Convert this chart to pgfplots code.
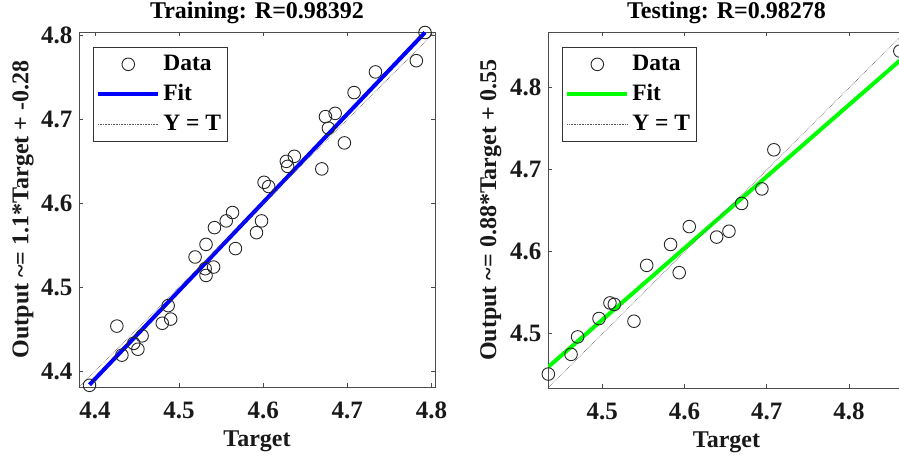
\documentclass[border=0pt]{standalone}
\usepackage{pgfplots}
\pgfplotsset{compat=1.18}
\usepackage{fontspec}
\setmainfont{Liberation Serif}
\definecolor{axgray}{gray}{0.3}
\definecolor{txt}{gray}{0.1}
\newcommand{\lblf}{\bfseries\fontsize{24}{26}\selectfont}
\newcommand{\tickf}{\bfseries\fontsize{25}{27}\selectfont}
\newcommand{\legf}{\bfseries\fontsize{23.5}{25}\selectfont}
\pgfplotsset{
  reg/.style={
    scale only axis,
    clip=true,
    axis line style={axgray, line width=0.9pt},
    tick style={axgray, line width=0.9pt},
    tick align=inside,
    major tick length=4pt,
    tick pos=both,
    xticklabel pos=bottom, yticklabel pos=left,
    /pgf/number format/.cd, assume math mode=true, fixed, fixed zerofill, precision=1,
    /pgfplots/.cd,
    every tick label/.append style={font=\tickf, text=txt},
    xticklabel style={anchor=base, yshift=-31pt},
    yticklabel style={anchor=east, xshift=-3pt},
    label style={font=\lblf, text=txt},
    title style={font=\lblf, at={(axis description cs:0.5,1)}, anchor=base, yshift=7pt},
    xlabel style={at={(axis description cs:0.5,0)}, anchor=base, yshift=-59pt},
    legend cell align=left,
    legend style={at={(axis description cs:0.039,0.958)}, anchor=north west,
      draw=black!80, line width=0.8pt, font=\legf, text=black,
      inner xsep=3pt, inner ysep=2pt,
      nodes={inner xsep=3pt, inner ysep=5pt, text height=16pt, text depth=4pt}},
  },
  lineleg/.style={legend image code/.code={\draw[##1] (0pt,0pt) -- (60pt,0pt);}},
  markleg/.style={legend image code/.code={\draw[##1] plot coordinates {(30pt,0pt)};}},
}
\begin{document}
\begin{tikzpicture}
\begin{axis}[reg,
  at={(79pt,72pt)}, anchor=south west,
  width=356pt, height=355pt,
  xmin=4.381, xmax=4.8042, ymin=4.381, ymax=4.8042,
  xtick={4.4,4.5,4.6,4.7,4.8}, ytick={4.4,4.5,4.6,4.7,4.8},
  title={Training: R=0.98392},
  xlabel={Target},
  ylabel={Output \textasciitilde= 1.1*Target + -0.28},
  ylabel style={at={(axis description cs:-0.157,0.5)}, anchor=center},
]
\addplot[only marks, mark=o, mark size=6.3pt, mark options={line width=0.9pt, draw=black!85}, markleg] table {
x y
4.3935 4.383
4.426 4.4536
4.432 4.419
4.446 4.433
4.451 4.426
4.456 4.442
4.480 4.457
4.487 4.478
4.490 4.462
4.519 4.536
4.532 4.551
4.531 4.522
4.532 4.514
4.541 4.524
4.542 4.571
4.556 4.579
4.5635 4.589
4.567 4.546
4.592 4.565
4.598 4.579
4.601 4.625
4.6065 4.620
4.6275 4.650
4.629 4.644
4.637 4.656
4.6696 4.641
4.674 4.7033
4.6775 4.6896
4.6855 4.7072
4.6965 4.672
4.708 4.732
4.7334 4.7566
4.782 4.770
4.7923 4.8036
};
\addlegendentry{Data}
\addplot[color={rgb,255:red,0;green,0;blue,255}, line width=4pt, lineleg] coordinates {(4.3935,4.3837) (4.7923,4.8036)};
\addlegendentry{Fit}
\addplot[black!65, line width=0.6pt, densely dotted, lineleg] coordinates {(4.381,4.381) (4.8042,4.8042)};
\addlegendentry{Y = T}
\end{axis}

\begin{axis}[reg,
  at={(548pt,71pt)}, anchor=south west,
  width=357pt, height=356pt,
  xmin=4.434, xmax=4.868, ymin=4.434, ymax=4.868,
  xtick={4.5,4.6,4.7,4.8}, ytick={4.5,4.6,4.7,4.8},
  title={Testing: R=0.98278},
  xlabel={Target},
  ylabel={Output \textasciitilde= 0.88*Target + 0.55},
  ylabel style={at={(axis description cs:-0.160,0.5)}, anchor=center},
]
\addplot[only marks, mark=o, mark size=6.3pt, mark options={line width=0.9pt, draw=black!85}, markleg] table {
x y
4.4344 4.451
4.462 4.475
4.470 4.4963
4.496 4.5187
4.5093 4.5377
4.5146 4.536
4.5385 4.5154
4.554 4.5835
4.583 4.609
4.5935 4.5746
4.6057 4.6308
4.639 4.618
4.654 4.6251
4.6694 4.659
4.694 4.6767
4.7086 4.7244
4.8617 4.8447
};
\addlegendentry{Data}
\addplot[color={rgb,255:red,0;green,255;blue,0}, line width=4pt, lineleg] coordinates {(4.4344,4.4598) (4.8617,4.8332)};
\addlegendentry{Fit}
\addplot[black!65, line width=0.6pt, densely dotted, lineleg] coordinates {(4.434,4.434) (4.868,4.868)};
\addlegendentry{Y = T}
\end{axis}
\pgfresetboundingbox
\path (0pt,0pt) rectangle (899pt,459pt);
\end{tikzpicture}
\end{document}
